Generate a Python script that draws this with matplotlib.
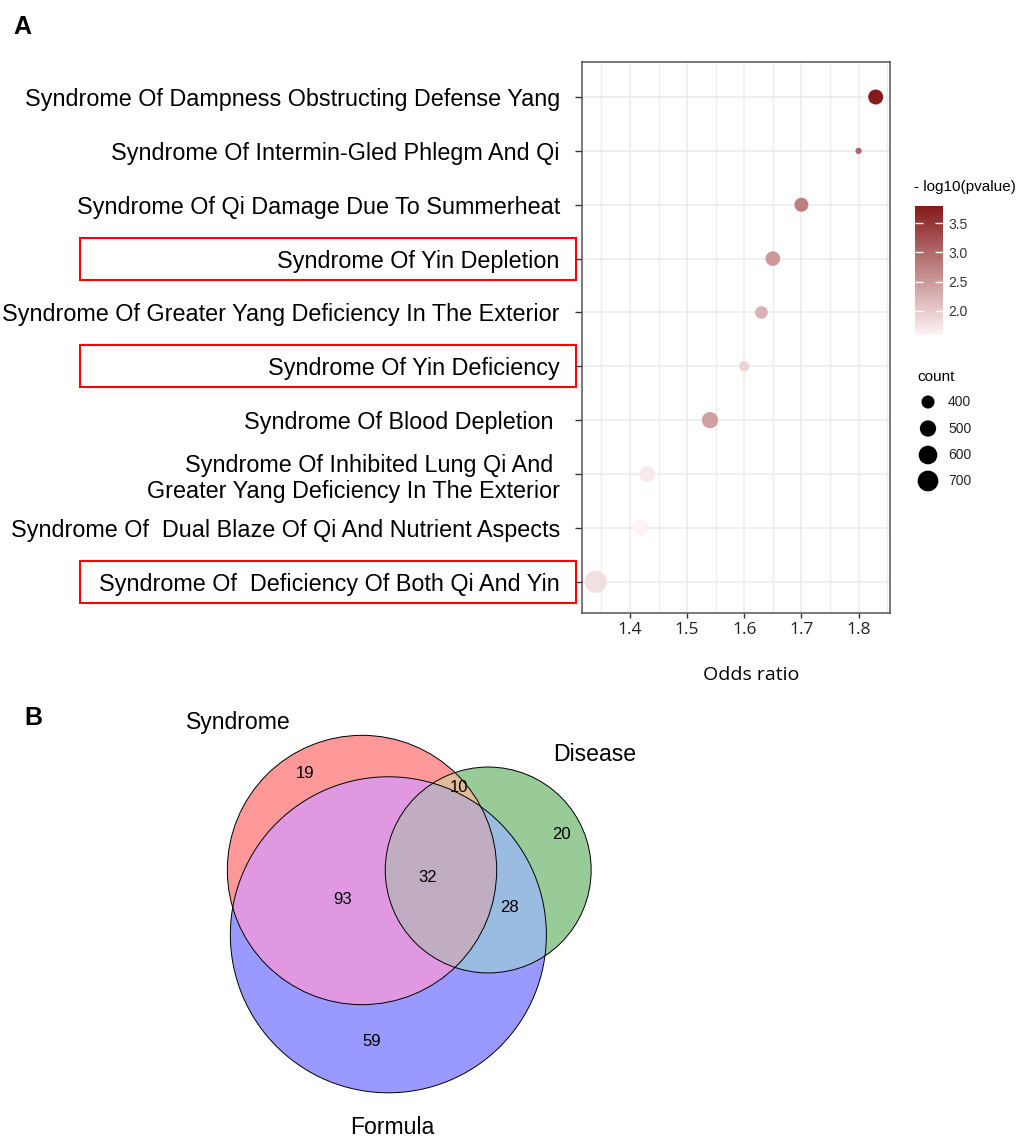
import math
import numpy as np
import matplotlib
matplotlib.use("Agg")
import matplotlib.pyplot as plt
from matplotlib.colors import LinearSegmentedColormap
from matplotlib.patches import Circle, Rectangle
from matplotlib import transforms

plt.rcParams['font.family'] = ['Liberation Sans', 'DejaVu Sans']

# ---- panel A data (top to bottom) ----
syndromes = [
    "Syndrome Of Dampness Obstructing Defense Yang",
    "Syndrome Of Intermin-Gled Phlegm And Qi",
    "Syndrome Of Qi Damage Due To Summerheat",
    "Syndrome Of Yin Depletion",
    "Syndrome Of Greater Yang Deficiency In The Exterior",
    "Syndrome Of Yin Deficiency",
    "Syndrome Of Blood Depletion ",
    "Syndrome Of Inhibited Lung Qi And \nGreater Yang Deficiency In The Exterior",
    "Syndrome Of  Dual Blaze Of Qi And Nutrient Aspects",
    "Syndrome Of  Deficiency Of Both Qi And Yin",
]
odds_ratio = [1.83, 1.80, 1.70, 1.65, 1.63, 1.60, 1.54, 1.43, 1.42, 1.34]
neg_log_p = [3.79, 3.0, 2.78, 2.49, 2.25, 1.92, 2.43, 1.68, 1.59, 1.79]
counts = [455, 315, 425, 446, 391, 340, 500, 479, 490, 790]
highlighted = [3, 5, 9]
count_breaks = [400, 500, 600, 700]
cbar_ticks = [2.0, 2.5, 3.0, 3.5]
x_ticks = [1.4, 1.5, 1.6, 1.7, 1.8]

# ---- panel B data ----
set_names = ["Syndrome", "Disease", "Formula"]
only_s, only_d, only_f = 19, 20, 59
s_and_d, s_and_f, d_and_f = 10, 93, 28
all_three = 32

W, H, DPI = 1020, 1138, 100
fig = plt.figure(figsize=(W / DPI, H / DPI), dpi=DPI)

# overlay axes in pixel coordinates (venn, legends, labels)
ov = fig.add_axes([0, 0, 1, 1])
ov.set_xlim(0, W)
ov.set_ylim(H, 0)
ov.axis('off')

cmap = LinearSegmentedColormap.from_list("reds", ["#FDF3F4", "#861A1A"])
c_lo, c_hi = min(counts), max(counts)


def dot_px(c):
    t = (np.asarray(c, dtype=float) - c_lo) / (c_hi - c_lo)
    return 6.3 + 16 * np.sqrt(np.clip(t, 0, 1))


def dot_area(c):
    return (dot_px(c) * 72 / DPI) ** 2


# ---- panel A ----
ax = fig.add_axes([582 / W, 1 - 613 / H, 308 / W, 551 / H])
n = len(syndromes)
ypos = np.arange(n)[::-1]
sc = ax.scatter(odds_ratio, ypos, s=dot_area(counts), c=neg_log_p, cmap=cmap,
                vmin=min(neg_log_p), vmax=max(neg_log_p), edgecolors='none', zorder=3)
ax.set_xlim(1.316, 1.855)
ax.set_ylim(-0.58, n - 1 + 0.65)
ax.set_yticks(ypos)
ax.set_yticklabels(syndromes, fontsize=16.8)
ax.set_xticks(x_ticks)
ax.set_xticklabels([f"{v:.1f}" for v in x_ticks], fontsize=12.5, family=['Open Sans', 'DejaVu Sans'], color='#222222')
ax.set_xticks(np.arange(1.35, 1.86, 0.1), minor=True)
ax.grid(True, which='major', color='#EBEBEB', lw=1.1, zorder=0)
ax.grid(True, which='minor', axis='x', color='#EBEBEB', lw=0.9, zorder=0)
ax.set_axisbelow(True)
ax.tick_params(axis='y', length=5, width=1, color='#333333', pad=11)
ax.tick_params(axis='x', which='major', length=3.5, width=1, color='#333333', pad=3)
ax.tick_params(axis='x', which='minor', length=0)
for sp in ax.spines.values():
    sp.set_color('#555555')
    sp.set_linewidth(1.1)
ax.set_xlabel("Odds ratio", fontsize=14, family=['Open Sans', 'DejaVu Sans'])
ax.xaxis.set_label_coords((751 - 582) / 308, -(666 - 613) / 551)

# red boxes around highlighted syndromes
box_tr = transforms.blended_transform_factory(ov.transData, ax.transData)
for i in highlighted:
    ov.add_patch(Rectangle((80, ypos[i] - 0.39), 496.5, 0.78, transform=box_tr,
                           fill=False, ec='#FF0000', lw=1.5, clip_on=False))

# colour bar
cax = fig.add_axes([915 / W, 1 - 335 / H, 28 / W, 129 / H])
cb = fig.colorbar(sc, cax=cax)
cb.outline.set_visible(False)
cb.set_ticks(cbar_ticks)
cb.set_ticklabels([f"{v:.1f}" for v in cbar_ticks])
cax.tick_params(direction='in', color='white', labelcolor='#333333', length=5.5,
                width=1, left=True, right=True, labelsize=10, pad=4)
ov.text(914, 187, "- log10(pvalue)", fontsize=11, va='center', ha='left')

# size legend
ov.text(917, 377, "count", fontsize=11, va='center', ha='left')
leg_y = [402, 428.5, 455, 481]
ov.scatter([928] * len(count_breaks), leg_y, s=dot_area(count_breaks), c='black',
           edgecolors='none')
for yy, b in zip(leg_y, count_breaks):
    ov.text(948, yy, str(b), fontsize=10, va='center', ha='left', color='#222222')

ov.text(13, 27, "A", fontsize=18, fontweight='bold', va='center', ha='left')
ov.text(24, 718, "B", fontsize=18, fontweight='bold', va='center', ha='left')

# ---- panel B: area-proportional venn ----
area_unit = 370.0  # px^2 per element
size_s = only_s + s_and_d + s_and_f + all_three
size_d = only_d + s_and_d + d_and_f + all_three
size_f = only_f + s_and_f + d_and_f + all_three
r_s, r_d, r_f = [math.sqrt(v * area_unit / math.pi) for v in (size_s, size_d, size_f)]


def lens(r1, r2, d):
    if d >= r1 + r2:
        return 0.0
    if d <= abs(r1 - r2):
        return math.pi * min(r1, r2) ** 2
    a1 = math.acos((d * d + r1 * r1 - r2 * r2) / (2 * d * r1))
    a2 = math.acos((d * d + r2 * r2 - r1 * r1) / (2 * d * r2))
    k = (-d + r1 + r2) * (d + r1 - r2) * (d - r1 + r2) * (d + r1 + r2)
    return r1 * r1 * a1 + r2 * r2 * a2 - 0.5 * math.sqrt(k)


def solve_dist(r1, r2, target):
    lo, hi = abs(r1 - r2), r1 + r2
    for _ in range(80):
        mid = 0.5 * (lo + hi)
        if lens(r1, r2, mid) > target:
            lo = mid
        else:
            hi = mid
    return 0.5 * (lo + hi)


d_sd = solve_dist(r_s, r_d, (s_and_d + all_three) * area_unit)
d_sf = solve_dist(r_s, r_f, (s_and_f + all_three) * area_unit)
d_df = solve_dist(r_d, r_f, (d_and_f + all_three) * area_unit)

c_s = np.array([362.0, 870.0])
c_d = c_s + [d_sd, 0.0]
cos_t = (d_sd ** 2 + d_sf ** 2 - d_df ** 2) / (2 * d_sd * d_sf)
theta = math.acos(max(-1.0, min(1.0, cos_t)))
c_f = c_s + d_sf * np.array([math.cos(theta), math.sin(theta)])

base = {'s': np.array([1.0, 0, 0]), 'd': np.array([0, 0.5, 0]), 'f': np.array([0, 0, 1.0])}


def mix(*keys):
    if len(keys) == 1:
        return base[keys[0]]
    f = 0.7 if len(keys) == 2 else 0.4
    return np.minimum(f * sum(base[k] for k in keys), 1.0)


step = 0.5
x0, x1, y0, y1 = 200, 660, 700, 1110
gx = np.arange(x0, x1, step) + step / 2
gy = np.arange(y0, y1, step) + step / 2
X, Y = np.meshgrid(gx, gy)
in_s = (X - c_s[0]) ** 2 + (Y - c_s[1]) ** 2 <= r_s ** 2
in_d = (X - c_d[0]) ** 2 + (Y - c_d[1]) ** 2 <= r_d ** 2
in_f = (X - c_f[0]) ** 2 + (Y - c_f[1]) ** 2 <= r_f ** 2
rgba = np.zeros(X.shape + (4,), dtype=np.float32)
regions = [
    (in_s & ~in_d & ~in_f, ('s',)),
    (in_d & ~in_s & ~in_f, ('d',)),
    (in_f & ~in_s & ~in_d, ('f',)),
    (in_s & in_d & ~in_f, ('s', 'd')),
    (in_s & in_f & ~in_d, ('s', 'f')),
    (in_d & in_f & ~in_s, ('d', 'f')),
    (in_s & in_d & in_f, ('s', 'd', 'f')),
]
for mask, keys in regions:
    rgba[mask, :3] = mix(*keys)
    rgba[mask, 3] = 0.4
ov.imshow(rgba, extent=(x0, x1, y1, y0), origin='upper', aspect='auto',
          interpolation='antialiased', zorder=1)
for c, r in ((c_s, r_s), (c_d, r_d), (c_f, r_f)):
    ov.add_patch(Circle(c, r, fill=False, ec='black', lw=0.7, zorder=2))
ov.set_xlim(0, W)
ov.set_ylim(H, 0)

region_counts = [only_s, s_and_d, only_d, all_three, s_and_f, d_and_f, only_f]
count_pos = [(305, 773), (459, 787), (561, 834), (428, 877), (343, 899), (509, 907), (372, 1042)]
for v, (px, py) in zip(region_counts, count_pos):
    ov.text(px, py, str(v), fontsize=12, ha='center', va='center', zorder=3)

name_pos = [(238, 722), (595, 754), (392, 1128)]
for name, (px, py) in zip(set_names, name_pos):
    ov.text(px, py, name, fontsize=16.6, ha='center', va='center', zorder=3)

fig.savefig("out.png", dpi=DPI)
